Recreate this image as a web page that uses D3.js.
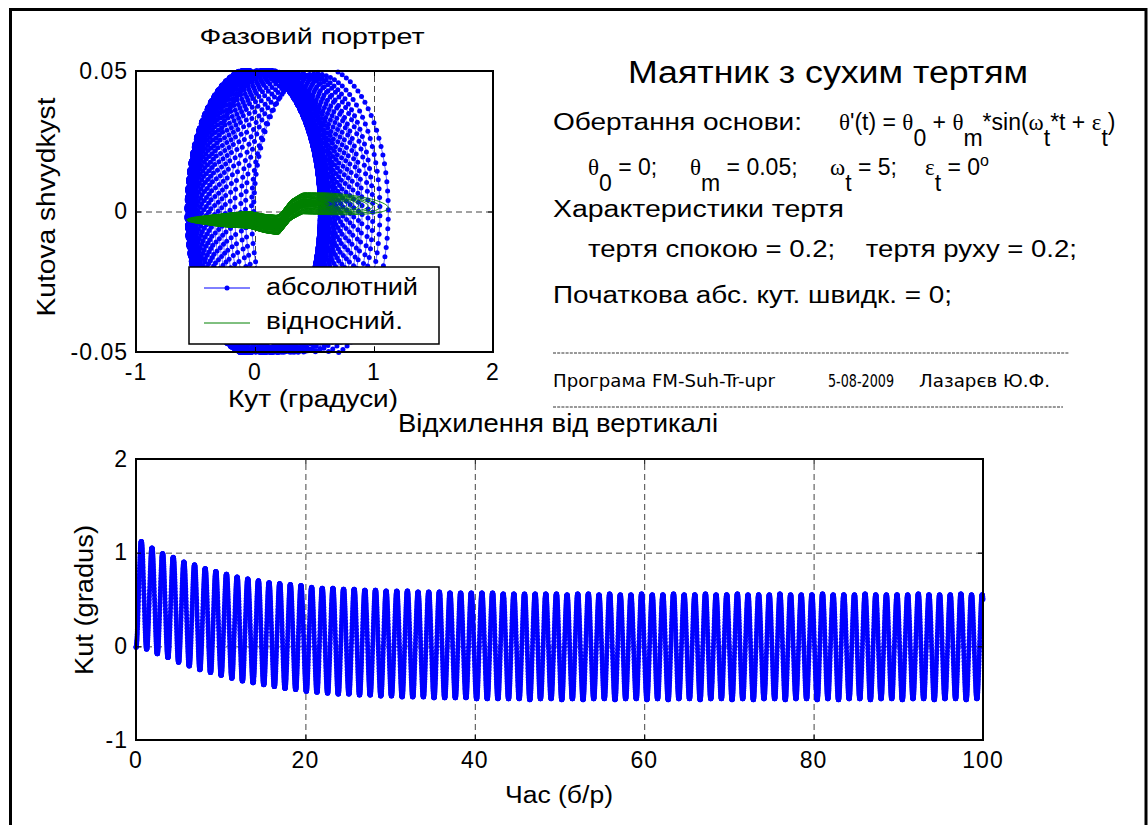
<!DOCTYPE html>
<html>
<head>
<meta charset="utf-8">
<script src="https://cdn.jsdelivr.net/npm/d3@7"></script>
<style>
  body { margin: 0; background: #fff; }
  svg text { font-family: "Liberation Sans", Arial, sans-serif; fill: #000; }
  .grid line { stroke: #444; stroke-dasharray: 6,4; stroke-width: 1; }
  .grid path { display: none; }
  .tick-ax path { display: none; }
  .tick-ax line { stroke: #000; stroke-width: 1; }
  .narrow { font-family: "Liberation Sans Narrow", "DejaVu Sans Condensed", Arial, sans-serif !important; }
  .greek { font-family: "Liberation Serif", "DejaVu Serif", serif !important; }
</style>
</head>
<body>
<svg id="fig" width="1148" height="825"></svg>
<script>
// ---- values ----
const omega = 5;      // base rotation frequency (rad/s)
const tEnd = 100;

// upper peak of every oscillation cycle (degrees)
const cycleHigh = [
  1.12, 1.05, 0.99, 0.95, 0.90, 0.87, 0.83, 0.80, 0.77, 0.74, 0.72, 0.70, 0.68, 0.67, 0.66, 0.65, 0.63, 0.62,
  0.62, 0.61, 0.61, 0.60, 0.60, 0.59, 0.59, 0.59, 0.58, 0.58, 0.58, 0.57, 0.57, 0.57, 0.57, 0.57, 0.56, 0.56,
  0.56, 0.56, 0.56, 0.56, 0.55, 0.56, 0.56, 0.55, 0.56, 0.55, 0.55, 0.56, 0.55, 0.55, 0.56, 0.55, 0.55, 0.56,
  0.55, 0.55, 0.56, 0.55, 0.55, 0.55, 0.56, 0.55, 0.55, 0.55, 0.56, 0.55, 0.55, 0.55, 0.56, 0.55, 0.55, 0.55,
  0.55, 0.56, 0.55, 0.55, 0.55, 0.56, 0.55, 0.55
];
// lower peak of every cycle (degrees)
const cycleLow = [
  -0.01, -0.03, -0.08, -0.12, -0.17, -0.21, -0.25, -0.28, -0.31, -0.34, -0.37, -0.39, -0.41, -0.43, -0.45, -0.46, -0.48, -0.49,
  -0.50, -0.51, -0.51, -0.52, -0.52, -0.53, -0.53, -0.54, -0.54, -0.54, -0.55, -0.55, -0.55, -0.55, -0.56, -0.56, -0.56, -0.56,
  -0.56, -0.57, -0.56, -0.56, -0.57, -0.56, -0.57, -0.56, -0.56, -0.57, -0.56, -0.56, -0.57, -0.56, -0.57, -0.56, -0.56, -0.57,
  -0.56, -0.56, -0.57, -0.56, -0.57, -0.56, -0.56, -0.57, -0.56, -0.56, -0.57, -0.56, -0.57, -0.56, -0.56, -0.57, -0.56, -0.56,
  -0.57, -0.56, -0.56, -0.57, -0.56, -0.56, -0.57, -0.56, -0.56
];
const velRatio = 1.04;   // phase-plot ellipse height vs. rigid-body velocity

// centre line of the green (relative velocity) band, angle -> rad/s
const greenX = [-0.60, -0.30, -0.05, 0.08, 0.20, 0.30, 0.40, 0.60, 0.80, 1.00, 1.15];
const greenY = [-0.0030, -0.0031, -0.0029, -0.0042, -0.0048, 0.0006, 0.0030, 0.0028, 0.0024, 0.0018, 0.0012];
// loop opening of the green curve, by cycle number
const greenCycle = [0, 10, 20, 30, 40, 50, 60, 70, 79];
const greenGain = [0.075, 0.065, 0.050, 0.000, 0.045, 0.010, 0.035, 0.000, 0.030];

const phaseXTicks = [-1, 0, 1, 2];
const phaseYTicks = [-0.05, 0, 0.05];
const phaseXGrid = [0, 1];
const phaseYGrid = [0];
const timeXTicks = [0, 20, 40, 60, 80, 100];
const timeYTicks = [-1, 0, 1, 2];
const timeXGrid = [20, 40, 60, 80];
const timeYGrid = [0, 1];
const legendLabels = ['абсолютний', 'відносний.'];

const blue = '#0000ff';
const green = '#008000';
const dotR = 2.5;

// ---- build the sampled trajectory from the cycle peaks ----
const period = 2 * Math.PI / omega;
const dt = period / 96.37;
const centre = d3.scaleLinear().domain(greenX).range(greenY);
const gainOf = d3.scaleLinear().domain(greenCycle).range(greenGain);

const samples = [];
for (let i = 0; i * dt <= tEnd; i++) {
  const t = i * dt;
  const k = Math.floor(t / period);
  const u = t / period - k;
  let a, b, s;
  if (u < 0.5) { a = cycleLow[k]; b = cycleHigh[k]; s = u * 2; }
  else { a = cycleHigh[k]; b = cycleLow[k + 1]; s = (u - 0.5) * 2; }
  const ang = (a + b) / 2 - (b - a) / 2 * Math.cos(Math.PI * s);
  const vel = velRatio * (b - a) / 2 * omega * Math.sin(Math.PI * s) * Math.PI / 180;
  samples.push({ t, ang, vel, rel: centre(ang) + gainOf(k) * vel });
}

const svg = d3.select('#fig');
const defs = svg.append('defs');

// figure frame
svg.append('rect')
  .attr('x', 10.5).attr('y', 9.5)
  .attr('width', 1135.5).attr('height', 900)
  .attr('fill', 'none').attr('stroke', '#000').attr('stroke-width', 3);

const fmtTick = f => d => f(d).replace('\u2212', '-');

// dashed grid under the data
function drawGrid(x, y, o) {
  const [x0, x1] = x.range();
  const [y0, y1] = y.range();   // y0 bottom, y1 top
  const g = svg.append('g');
  g.append('g').attr('class', 'grid')
    .attr('transform', `translate(0,${y0})`)
    .call(d3.axisBottom(x).tickValues(o.xGrid).tickSize(-(y0 - y1)).tickFormat(''));
  g.append('g').attr('class', 'grid')
    .attr('transform', `translate(${x0},0)`)
    .call(d3.axisLeft(y).tickValues(o.yGrid).tickSize(-(x1 - x0)).tickFormat(''));
  return g;
}

// box, inward ticks on all sides, tick labels
function drawFrame(x, y, o) {
  const [x0, x1] = x.range();
  const [y0, y1] = y.range();
  const g = svg.append('g');
  const tl = 5;
  g.append('g').attr('class', 'tick-ax').attr('transform', `translate(0,${y0})`)
    .call(d3.axisBottom(x).tickValues(o.xTicks).tickSize(-tl).tickFormat(''));
  g.append('g').attr('class', 'tick-ax').attr('transform', `translate(0,${y1})`)
    .call(d3.axisTop(x).tickValues(o.xTicks).tickSize(-tl).tickFormat(''));
  g.append('g').attr('class', 'tick-ax').attr('transform', `translate(${x0},0)`)
    .call(d3.axisLeft(y).tickValues(o.yTicks).tickSize(-tl).tickFormat(''));
  g.append('g').attr('class', 'tick-ax').attr('transform', `translate(${x1},0)`)
    .call(d3.axisRight(y).tickValues(o.yTicks).tickSize(-tl).tickFormat(''));

  g.append('rect')
    .attr('x', x0).attr('y', y1)
    .attr('width', x1 - x0).attr('height', y0 - y1)
    .attr('fill', 'none').attr('stroke', '#000').attr('stroke-width', 2);

  g.selectAll('.xl').data(o.xTicks).join('text')
    .attr('x', d => x(d)).attr('y', y0 + 28)
    .attr('text-anchor', 'middle')
    .style('font-size', '23px').style('letter-spacing', '1px')
    .text(o.xFmt);
  g.selectAll('.yl').data(o.yTicks).join('text')
    .attr('x', x0 - 8).attr('y', d => y(d) + 7.5)
    .attr('text-anchor', 'end')
    .style('font-size', '23px').style('letter-spacing', '1px')
    .text(o.yFmt);
  return g;
}

function clipFor(id, x, y) {
  const [x0, x1] = x.range();
  const [y0, y1] = y.range();
  defs.append('clipPath').attr('id', id).append('rect')
    .attr('x', x0).attr('y', y1).attr('width', x1 - x0).attr('height', y0 - y1);
  return `url(#${id})`;
}

function label(txt, x, y, size, opts = {}) {
  const t = svg.append('text')
    .attr('x', x).attr('y', y)
    .attr('text-anchor', opts.anchor || 'middle')
    .style('font-size', size + 'px')
    .text(txt);
  if (opts.width) t.attr('textLength', opts.width).attr('lengthAdjust', 'spacingAndGlyphs');
  if (opts.rotate) t.attr('transform', `rotate(-90,${x},${y})`);
  if (opts.cls) t.attr('class', opts.cls);
  return t;
}

// ---------------- phase portrait ----------------
const px = d3.scaleLinear().domain([-1, 2]).range([136, 493]);
const py = d3.scaleLinear().domain([-0.05, 0.05]).range([352, 71]);
drawGrid(px, py, { xGrid: phaseXGrid, yGrid: phaseYGrid });
const phaseClip = clipFor('clipPhase', px, py);

const phaseLine = d3.line().x(d => px(d.ang)).y(d => py(d.vel));
svg.append('path').datum(samples)
  .attr('clip-path', phaseClip)
  .attr('d', phaseLine).attr('fill', 'none')
  .attr('stroke', blue).attr('stroke-width', 0.6);
svg.append('g').selectAll('circle')
  .data(samples.filter(d => Math.abs(d.vel) <= 0.0502))
  .join('circle')
  .attr('cx', d => px(d.ang)).attr('cy', d => py(d.vel))
  .attr('r', dotR).attr('fill', blue);

const relLine = d3.line().x(d => px(d.ang)).y(d => py(d.rel));
svg.append('path').datum(samples)
  .attr('d', relLine).attr('fill', 'none')
  .attr('stroke', green).attr('stroke-width', 0.9);

drawFrame(px, py, {
  xTicks: phaseXTicks, yTicks: phaseYTicks,
  xFmt: fmtTick(d3.format('d')),
  yFmt: d => d === 0 ? '0' : fmtTick(d3.format('.2f'))(d)
});

// legend
const lg = svg.append('g');
lg.append('rect').attr('x', 189).attr('y', 267).attr('width', 250).attr('height', 77)
  .attr('fill', '#fff').attr('stroke', '#000').attr('stroke-width', 1.5);
const legendRows = [
  { label: legendLabels[0], color: blue, dot: true, y: 288, ty: 295, w: 152 },
  { label: legendLabels[1], color: green, dot: false, y: 323, ty: 329, w: 137 }
];
legendRows.forEach(r => {
  lg.append('line').attr('x1', 204).attr('x2', 250).attr('y1', r.y).attr('y2', r.y)
    .attr('stroke', r.color).attr('stroke-width', 1);
  if (r.dot) lg.append('circle').attr('cx', 227).attr('cy', r.y).attr('r', 2.5).attr('fill', r.color);
  label(r.label, 266, r.ty, 23, { anchor: 'start', width: r.w });
});

label('Фазовий портрет', 312, 44, 22, { width: 225 });
label('Кут (градуси)', 313, 407, 23, { width: 170 });
label('Kutova shvydkyst', 55, 207, 25, { rotate: true, width: 219 });

// ---------------- time history ----------------
const tx = d3.scaleLinear().domain([0, tEnd]).range([136, 983]);
const ty = d3.scaleLinear().domain([-1, 2]).range([740, 459]);
drawGrid(tx, ty, { xGrid: timeXGrid, yGrid: timeYGrid });

const timeLine = d3.line().x(d => tx(d.t)).y(d => ty(d.ang));
svg.append('path').datum(samples)
  .attr('d', timeLine).attr('fill', 'none')
  .attr('stroke', blue).attr('stroke-width', 0.6);
svg.append('g').selectAll('circle').data(samples).join('circle')
  .attr('cx', d => tx(d.t)).attr('cy', d => ty(d.ang))
  .attr('r', dotR).attr('fill', blue);

drawFrame(tx, ty, {
  xTicks: timeXTicks, yTicks: timeYTicks,
  xFmt: fmtTick(d3.format('d')), yFmt: fmtTick(d3.format('d'))
});

label('Відхилення від вертикалі', 558, 432, 25, { width: 320 });
label('Час (б/р)', 559, 803, 23, { width: 108 });
label('Kut (gradus)', 93, 600, 26, { rotate: true, width: 150 });

// ---------------- text block ----------------
label('Маятник з сухим тертям', 828, 83, 31, { width: 400 });
label('Обертання основи:', 553, 130, 23, { anchor: 'start', width: 249 });

// formula with greek letters, subscripts and superscript
function formula(x, y, parts) {
  const t = svg.append('text').attr('x', x).attr('y', y).style('font-size', '23px');
  let shift = 0;
  parts.forEach(p => {
    const sp = t.append('tspan').text(p.s);
    const want = p.sub ? 16 : p.sup ? -9 : 0;
    if (want !== shift) { sp.attr('dy', want - shift); shift = want; }
    if (p.g) sp.attr('class', 'greek');
    if (p.sup) sp.style('font-size', '16px');
  });
  return t;
}
formula(839, 130, [
  { s: 'θ', g: true }, { s: "'(t) = " }, { s: 'θ', g: true }, { s: '0', sub: true },
  { s: ' + ' }, { s: 'θ', g: true }, { s: 'm', sub: true }, { s: '*sin(' },
  { s: 'ω', g: true }, { s: 't', sub: true }, { s: '*t + ' }, { s: 'ε', g: true },
  { s: 't', sub: true }, { s: ')' }
]);
formula(588, 175, [{ s: 'θ', g: true }, { s: '0', sub: true }, { s: ' = 0;' }]);
formula(690, 175, [{ s: 'θ', g: true }, { s: 'm', sub: true }, { s: ' = 0.05;' }]);
formula(830, 175, [{ s: 'ω', g: true }, { s: 't', sub: true }, { s: ' = 5;' }]);
formula(925, 175, [{ s: 'ε', g: true }, { s: 't', sub: true }, { s: ' = 0' }, { s: 'o', sup: true }]);

label('Характеристики тертя', 553, 217, 23, { anchor: 'start', width: 291 });
label('тертя спокою = 0.2;    тертя руху = 0.2;', 588, 257, 23, { anchor: 'start', width: 489 })
  .attr('xml:space', 'preserve');
label('Початкова абс. кут. швидк. = 0;', 553, 303, 23, { anchor: 'start', width: 399 });

[353, 407].forEach((yy, i) => {
  svg.append('line').attr('x1', 553).attr('x2', i ? 1063 : 1069)
    .attr('y1', yy).attr('y2', yy)
    .attr('stroke', '#333').attr('stroke-width', 1).attr('stroke-dasharray', '3,1.2');
});
label('Програма FM-Suh-Tr-upr', 553, 387, 17, { anchor: 'start', width: 222, cls: 'narrow' });
label('5-08-2009', 828, 387, 17, { anchor: 'start', width: 66, cls: 'narrow' });
label('Лазарєв Ю.Ф.', 919, 387, 17, { anchor: 'start', width: 131, cls: 'narrow' });
</script>
</body>
</html>
